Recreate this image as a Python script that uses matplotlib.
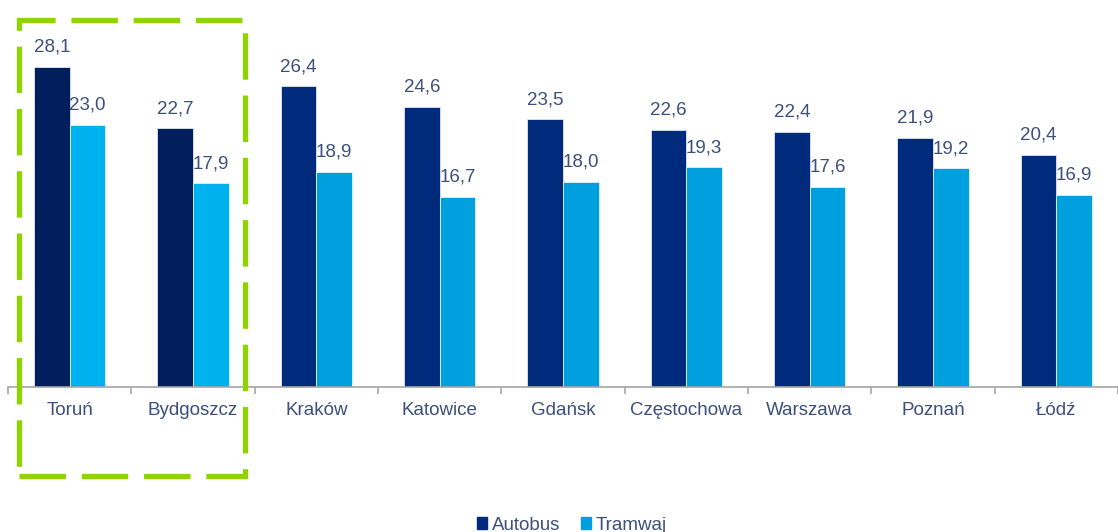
import matplotlib.pyplot as plt
from matplotlib.patches import Rectangle, Patch

plt.rcParams['font.family'] = ['Liberation Sans', 'DejaVu Sans']

cities = ['Toruń', 'Bydgoszcz', 'Kraków', 'Katowice', 'Gdańsk',
          'Częstochowa', 'Warszawa', 'Poznań', 'Łódź']
autobus = [28.1, 22.7, 26.4, 24.6, 23.5, 22.6, 22.4, 21.9, 20.4]
tramwaj = [23.0, 17.9, 18.9, 16.7, 18.0, 19.3, 17.6, 19.2, 16.9]

W, H = 1118, 532
txt_col = '#3c4f7e'
fs = 13.5

fig = plt.figure(figsize=(W / 100, H / 100), dpi=100)
# axes: baseline at y=387 px, groups 125 px wide starting at x=8
ax = fig.add_axes([8 / W, (H - 387) / H, 1110 / W, 387 / H])
ax.set_xlim(-0.5, -0.5 + 1110 / 125)
ax.set_ylim(0, 387 / 11.39)

bw = 0.288
x = range(len(cities))
dark = ['#001f5c' if i < 2 else '#002a7c' for i in x]
light = ['#00b1ef' if i < 2 else '#009fde' for i in x]

b1 = ax.bar([i - bw / 2 for i in x], autobus, bw, color=dark,
            edgecolor='#dfe6f0', linewidth=0.6)
b2 = ax.bar([i + bw / 2 for i in x], tramwaj, bw, color=light,
            edgecolor='#dff2fb', linewidth=0.6)

for bars, vals in ((b1, autobus), (b2, tramwaj)):
    for r, v in zip(bars, vals):
        ax.annotate(f'{v:.1f}'.replace('.', ','),
                    (r.get_x() + r.get_width() / 2, r.get_height()),
                    xytext=(0, 8), textcoords='offset points',
                    ha='center', va='bottom', fontsize=fs, color=txt_col)

for s in ('top', 'right', 'left'):
    ax.spines[s].set_visible(False)
ax.spines['bottom'].set_color('#a6a6a6')
ax.spines['bottom'].set_linewidth(1.2)
ax.set_yticks([])
ax.set_xticks([i - 0.5 for i in range(10)], minor=False)
ax.set_xticklabels([])
ax.tick_params(axis='x', which='major', length=5, color='#a6a6a6', width=1.2)
ax.set_xticks(list(x), minor=True)
ax.set_xticklabels(cities, minor=True)
ax.tick_params(axis='x', which='minor', length=0, pad=11,
               labelsize=fs, labelcolor=txt_col)

# green dashed frame around first two groups
rect = Rectangle((19 / W, 1 - 476 / H), 226 / W, 456 / H,
                 transform=fig.transFigure, fill=False,
                 edgecolor='#8fd400', linewidth=3.8,
                 linestyle=(0, (8.8, 3.0)), clip_on=False)
fig.add_artist(rect)

handles = [Patch(color='#002a7c'), Patch(color='#009fde')]
fig.legend(handles, ['Autobus', 'Tramwaj'], loc='center',
           bbox_to_anchor=(572 / W, 7 / H), ncol=2, frameon=False,
           handlelength=0.55, handleheight=0.55, handletextpad=0.25,
           columnspacing=1.1, fontsize=fs, labelcolor=txt_col)

fig.savefig('out.png', dpi=100)
